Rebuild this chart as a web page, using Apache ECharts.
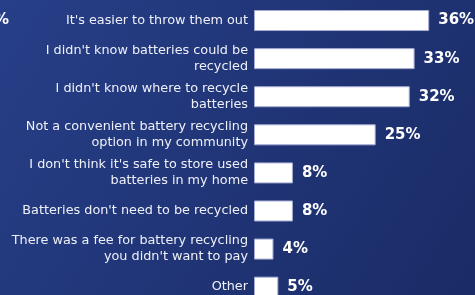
<!DOCTYPE html>
<html>
<head>
<meta charset="utf-8">
<script src="https://cdn.jsdelivr.net/npm/echarts@6/dist/echarts.min.js"></script>
<style>
    html, body { margin: 0; padding: 0; }
    #chart { width: 475px; height: 295px; }
</style>
</head>
<body>
<div id="chart"></div>
<script>
    // 原因（从上到下）
    var reasons = [
        "It's easier to throw them out",
        "I didn't know batteries could be\nrecycled",
        "I didn't know where to recycle\nbatteries",
        "Not a convenient battery recycling\noption in my community",
        "I don't think it's safe to store used\nbatteries in my home",
        "Batteries don't need to be recycled",
        "There was a fee for battery recycling\nyou didn't want to pay",
        "Other"
    ];
    // 百分比
    var percents = [36, 33, 32, 25, 8, 8, 4, 5];

    var myChart = echarts.init(document.getElementById('chart'));
    myChart.setOption({
        backgroundColor: new echarts.graphic.LinearGradient(0, 0, 1, 1, [
            { offset: 0, color: '#273f88' },
            { offset: 1, color: '#1a2b66' }
        ]),
        animation: false,
        graphic: [{
            type: 'text',
            x: 9,
            y: 20,
            style: {
                text: '%',
                fill: '#ffffff',
                font: 'bold 15px "DejaVu Sans"',
                align: 'right',
                verticalAlign: 'middle'
            }
        }],
        grid: {
            left: 254,
            top: 1.5,
            width: 219,
            height: 304.7,
            outerBoundsMode: 'none'
        },
        xAxis: {
            type: 'value',
            min: 0,
            max: 45,
            show: false
        },
        yAxis: {
            type: 'category',
            inverse: true,
            data: reasons,
            axisLine: { show: false },
            axisTick: { show: false },
            axisLabel: {
                margin: 6,
                color: '#eef0f8',
                fontFamily: 'DejaVu Sans',
                fontSize: 12.8,
                lineHeight: 16
            }
        },
        series: [{
            type: 'bar',
            data: percents,
            barWidth: 21,
            itemStyle: {
                color: '#ffffff',
                borderColor: '#a6acd4',
                borderWidth: 1
            },
            label: {
                show: true,
                position: 'right',
                distance: 9,
                formatter: '{c}%',
                color: '#ffffff',
                fontFamily: 'DejaVu Sans',
                fontWeight: 'bold',
                fontSize: 15
            }
        }]
    });
</script>
</body>
</html>
